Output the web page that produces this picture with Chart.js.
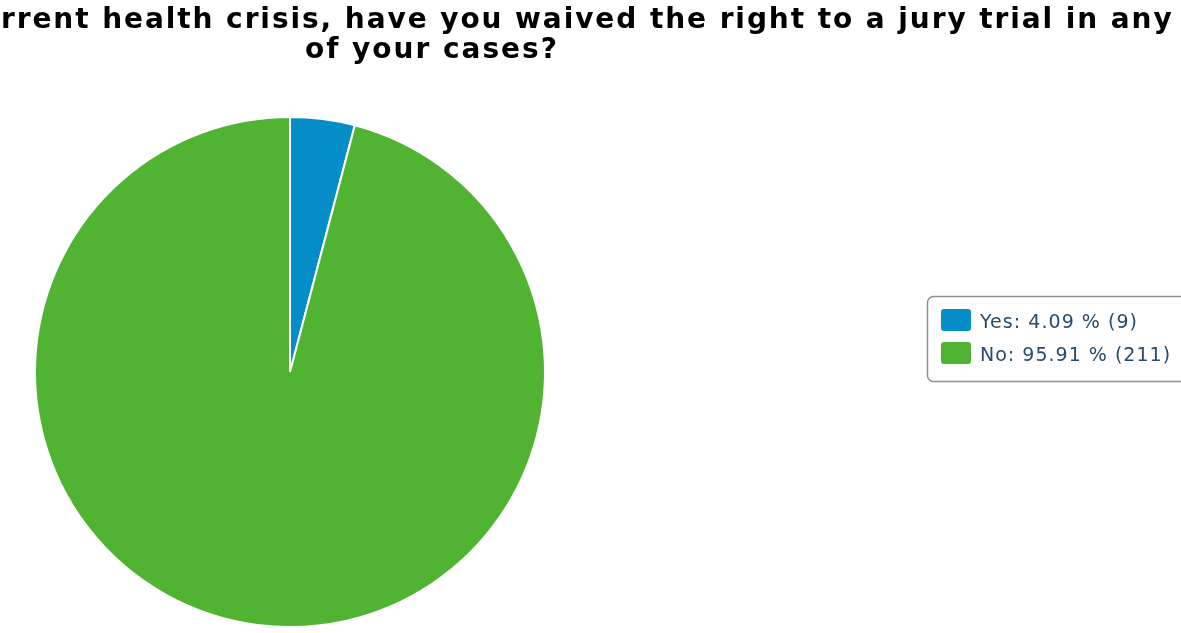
<!DOCTYPE html>
<html>
<head>
<meta charset="utf-8">
<script src="https://cdn.jsdelivr.net/npm/chart.js@4/dist/chart.umd.min.js"></script>
<style>
  html, body { margin: 0; padding: 0; background: #fff; overflow: hidden; }
  #wrap { width: 1181px; height: 633px; }
</style>
</head>
<body>
<div id="wrap"><canvas id="pie" width="1181" height="633"></canvas></div>
<script>
const categories = ['Yes', 'No'];
const counts = [9, 211];
const colors = ['#058dc7', '#50b432'];
const titleLines = [
    'rrent health crisis, have you waived the right to a jury trial in any',
    'of your cases?'
];

const total = counts.reduce((a, b) => a + b, 0);
const legendLabels = categories.map((c, i) =>
    c + ': ' + (counts[i] / total * 100).toFixed(2) + ' % (' + counts[i] + ')');

// spread a line over a given width by adjusting letter spacing
function fitText(ctx, txt, left, right, base) {
    ctx.letterSpacing = '0px';
    const w = ctx.measureText(txt).width;
    const gap = (right - left - w) / (txt.length - 1);
    ctx.letterSpacing = gap.toFixed(2) + 'px';
    ctx.fillText(txt, left, base);
    ctx.letterSpacing = '0px';
}

// title is drawn by hand so each line can sit where the original puts it
const titlePlugin = {
    id: 'titleLines',
    afterDraw(chart) {
        const ctx = chart.ctx;
        const spots = [
            { left: 1, right: 1172, base: 28 },
            { left: 305, right: 557, base: 58 }
        ];
        ctx.save();
        ctx.fillStyle = '#000';
        ctx.font = 'bold 28px "DejaVu Sans"';
        ctx.textBaseline = 'alphabetic';
        ctx.textAlign = 'left';
        titleLines.forEach((line, i) => {
            const s = spots[i];
            fitText(ctx, line, s.left, s.right, s.base);
        });
        ctx.restore();
    }
};

// boxed legend on the right, like the source image
const legendPlugin = {
    id: 'boxLegend',
    afterDraw(chart) {
        const ctx = chart.ctx;
        const ends = [1137, 1170];
        ctx.save();
        ctx.strokeStyle = '#909090';
        ctx.lineWidth = 1.5;
        ctx.beginPath();
        ctx.roundRect(927.5, 296.5, 270, 85, 6);
        ctx.stroke();
        ctx.font = '19px "DejaVu Sans"';
        ctx.textBaseline = 'alphabetic';
        legendLabels.forEach((txt, i) => {
            const y = 309 + i * 33;
            ctx.fillStyle = colors[i];
            ctx.beginPath();
            ctx.roundRect(941, y, 30, 22, 3);
            ctx.fill();
            ctx.fillStyle = '#274b6d';
            fitText(ctx, txt, 980, ends[i], y + 19);
        });
        ctx.restore();
    }
};

new Chart(document.getElementById('pie'), {
    type: 'pie',
    data: {
        labels: categories,
        datasets: [{
            data: counts,
            backgroundColor: colors,
            hoverBackgroundColor: colors,
            borderColor: '#ffffff',
            borderWidth: 2,
            hoverOffset: 0,
            offset: 0
        }]
    },
    options: {
        responsive: false,
        animation: false,
        layout: {
            padding: { top: 116, bottom: 5, left: 34, right: 635 }
        },
        plugins: {
            legend: { display: false },
            title: { display: false },
            tooltip: { enabled: false }
        }
    },
    plugins: [titlePlugin, legendPlugin]
});
</script>
</body>
</html>
